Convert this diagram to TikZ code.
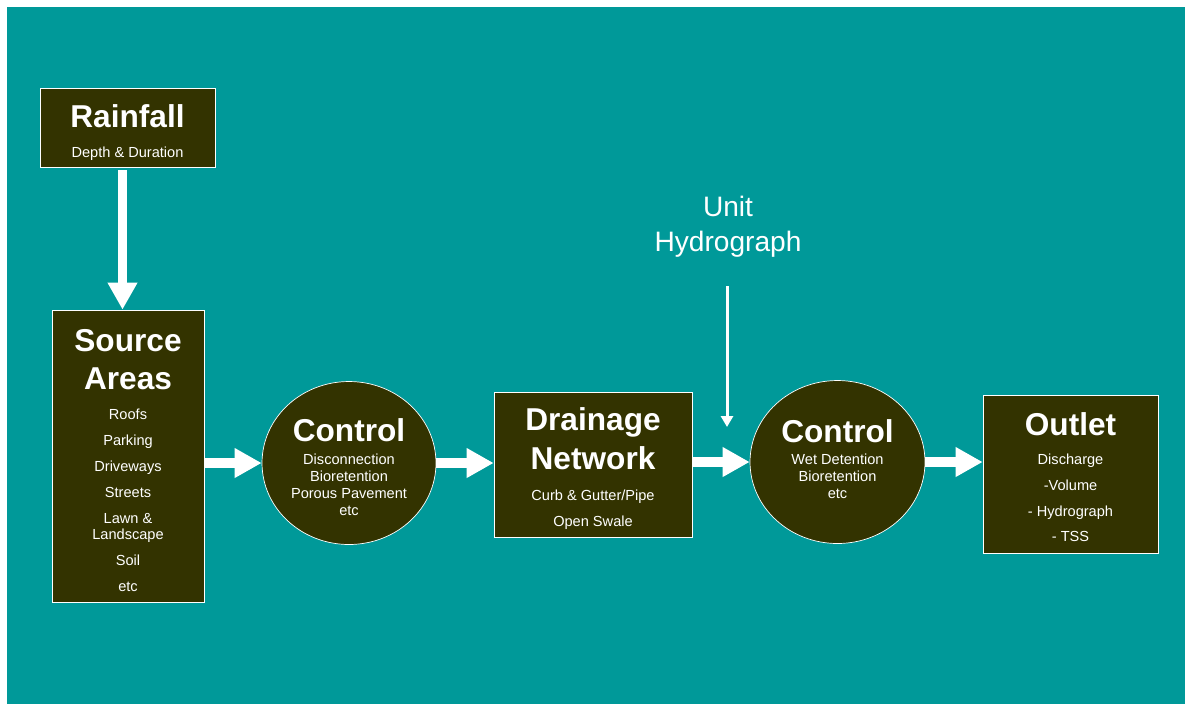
\documentclass[tikz,border=0pt]{standalone}
\usepackage{fontspec}
\setmainfont{Liberation Sans}
\usetikzlibrary{shapes.geometric,arrows.meta}
\definecolor{sea}{HTML}{009999}
\definecolor{mud}{HTML}{333300}
\newcommand\hdfont{\fontsize{18}{22}\selectfont\bfseries}
\newcommand\smfont{\fontsize{8.3}{9.6}\selectfont}
\begin{document}
\begin{tikzpicture}[
x=0.02cm,y=-0.02cm,
box/.style={draw=white,fill=mud,text=white,align=center,inner sep=0pt,font=\smfont,text depth=0pt},
ctrl/.style={box,ellipse,minimum width=3.48cm,minimum height=3.26cm},
flow/.style={white,line width=0.19cm,-{Triangle[length=0.54cm,width=0.56cm]}},
feed/.style={white,line width=0.06cm,-{Triangle[length=0.22cm,width=0.24cm]}},
]
\useasboundingbox (0,0) rectangle (1185,704);
\fill[sea] (7,7) rectangle (1185,704);
\node[box,minimum width=3.5cm,minimum height=1.58cm,text height=33.7pt] (rain) at (127.5,127.5)
    {\hdfont Rainfall\\[7.4pt]Depth \& Duration};
\node[box,minimum width=3.04cm,minimum height=5.84cm,text height=154.4pt] (src) at (128,456)
    {\hdfont Source\\[7.9pt]\hdfont Areas\\[7.7pt]Roofs\\[5.1pt]Parking\\[5.1pt]Driveways\\[5.1pt]Streets\\[5.1pt]Lawn \&\\Landscape\\[5.1pt]Soil\\[5.1pt]etc};
\node[ctrl,text height=59.2pt] (ctl1) at (349,463)
    {\hdfont Control\\[3.2pt]Disconnection\\Bioretention\\Porous Pavement\\etc};
\node[box,minimum width=3.96cm,minimum height=2.9cm,text height=70pt] (net) at (593,464.5)
    {\hdfont Drainage\\[4.5pt]\hdfont Network\\[7.7pt]Curb \& Gutter/Pipe\\[5.1pt]Open Swale};
\node[ctrl,minimum width=3.5cm,text height=41pt] (ctl2) at (837.5,462)
    {\hdfont Control\\[2.6pt]Wet Detention\\Bioretention\\etc};
\node[box,minimum width=3.5cm,minimum height=3.16cm,text height=77.3pt] (out) at (1070.5,474)
    {\hdfont Outlet\\[7.1pt]Discharge\\[5.1pt]-Volume\\[5.1pt]- Hydrograph\\[5.1pt]- TSS};
\node[text=white,align=center,inner sep=0pt,font=\fontsize{16}{19.8}\selectfont] (uh) at (728,227)
    {Unit\\Hydrograph};
\coordinate (feedtop) at (727,286);
\coordinate (tap) at (727,427);
\draw[flow] ([xshift=-0.1cm,yshift=-0.06cm]rain.south) -- ([xshift=-0.1cm]rain.south |- src.north);
\draw[flow] (ctl1.west -| src.east) -- (ctl1.west);
\draw[flow] (ctl1.east) -- (ctl1.east -| net.west);
\draw[flow] (ctl2.west -| net.east) -- (ctl2.west);
\draw[flow] (ctl2.east) -- (ctl2.east -| out.west);
\draw[feed] (feedtop) -- (tap);
\end{tikzpicture}
\end{document}
